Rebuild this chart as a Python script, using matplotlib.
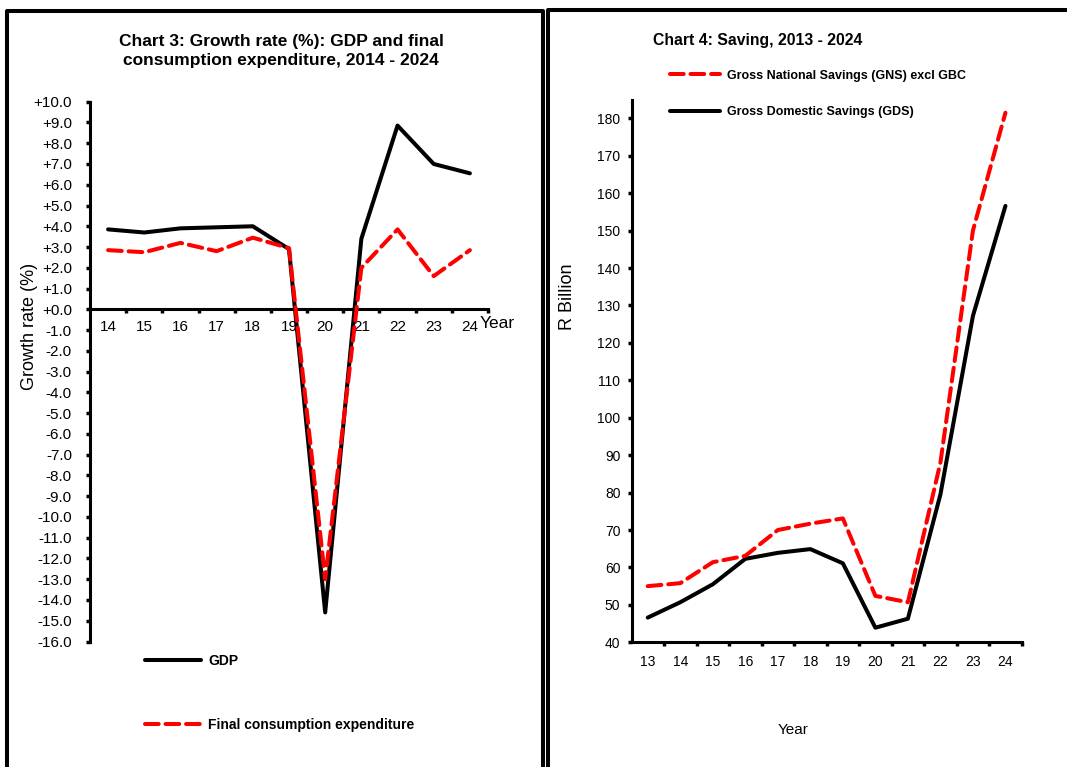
import matplotlib
matplotlib.use("Agg")
import matplotlib.pyplot as plt
from matplotlib.lines import Line2D
from matplotlib.ticker import FixedLocator, FuncFormatter, MultipleLocator

plt.rcParams['font.family'] = ['Liberation Sans', 'DejaVu Sans']

# Chart 3 data (growth rate, %)
years_growth = ['14', '15', '16', '17', '18', '19', '20', '21', '22', '23', '24']
gdp_growth = [3.85, 3.7, 3.9, 3.95, 4.0, 2.9, -14.6, 3.4, 8.85, 7.0, 6.55]
fce_growth = [2.85, 2.75, 3.2, 2.8, 3.45, 2.95, -13.0, 2.0, 3.85, 1.6, 2.85]

# Chart 4 data (R billion)
years_saving = ['13', '14', '15', '16', '17', '18', '19', '20', '21', '22', '23', '24']
gns_excl_gbc = [55.0, 55.8, 61.4, 63.1, 70.0, 71.7, 73.1, 52.4, 50.7, 88.0, 150.0, 181.5]
gds = [46.6, 50.7, 55.5, 62.3, 63.9, 64.9, 61.1, 43.9, 46.3, 79.5, 127.2, 156.6]

W, H = 1067, 767
fig = plt.figure(figsize=(W / 100, H / 100), dpi=100)


def fx(x):
    return x / W


def fy(y):
    return 1 - y / H


red = '#ff0000'
dash = (0, (3.4, 1.7))
lw_line = 2.9
lw_spine = 2.2

# panel borders
fig.add_artist(Line2D([fx(7), fx(7), fx(543), fx(543)], [fy(800), fy(11), fy(11), fy(800)],
                      transform=fig.transFigure, color='black', lw=2.9))
fig.add_artist(Line2D([fx(547.5), fx(547.5), fx(1075)], [fy(800), fy(9.5), fy(9.5)],
                      transform=fig.transFigure, color='black', lw=2.9))

# ---------- Chart 3 ----------
ax1 = fig.add_axes([fx(90), fy(641.5), 398 / W, 539.8 / H])
x1 = range(len(years_growth))
ax1.plot(x1, gdp_growth, color='black', lw=lw_line, solid_joinstyle='round',
         solid_capstyle='round', label='GDP', zorder=3)
ax1.plot(x1, fce_growth, color=red, lw=lw_line, linestyle=dash, dash_capstyle='round',
         label='Final consumption expenditure', zorder=4)
ax1.set_xlim(-0.5, len(years_growth) - 0.5)
ax1.set_ylim(-16, 10)
for s in ['top', 'right']:
    ax1.spines[s].set_visible(False)
ax1.spines['bottom'].set_position(('data', 0))
ax1.spines['left'].set_linewidth(lw_spine)
ax1.spines['bottom'].set_linewidth(lw_spine)
ax1.yaxis.set_major_locator(MultipleLocator(1))
ax1.yaxis.set_major_formatter(FuncFormatter(lambda v, p: f'{v:+.1f}'))
ax1.set_xticks(list(x1))
ax1.set_xticklabels(years_growth)
ax1.xaxis.set_minor_locator(FixedLocator([i + 0.5 for i in x1]))
ax1.tick_params(axis='x', which='major', length=0, pad=8, labelsize=11)
ax1.tick_params(axis='x', which='minor', length=3, width=2.5, direction='out')
ax1.tick_params(axis='y', length=3, width=2.5, direction='out', pad=10, labelsize=11)
for lab in ax1.get_xticklabels():
    lab.set_x(lab.get_position()[0])

fig.text(fx(497), fy(323), 'Year', ha='center', va='center', fontsize=12.5)
fig.text(fx(30), fy(326), 'Growth rate (%)', rotation=90, ha='center', va='center', fontsize=13)
fig.text(fx(281), fy(51), 'Chart 3: Growth rate (%): GDP and final\nconsumption expenditure, 2014 - 2024',
         ha='center', va='center', fontsize=12.5, weight='bold', linespacing=1.35)

leg1 = ax1.legend(loc='upper left', bbox_to_anchor=(fx(145), fy(654)), bbox_transform=fig.transFigure,
                  frameon=False, borderpad=0, borderaxespad=0, handlelength=4.0, handletextpad=0.55,
                  labelspacing=3.6, prop={'weight': 'bold', 'size': 10})

# ---------- Chart 4 ----------
ax2 = fig.add_axes([fx(631.5), fy(642.3), 390.2 / W, 542.7 / H])
x2 = range(len(years_saving))
ax2.plot(x2, gns_excl_gbc, color=red, lw=lw_line, linestyle=dash, dash_capstyle='round',
         label='Gross National Savings (GNS) excl GBC', zorder=4)
ax2.plot(x2, gds, color='black', lw=lw_line, solid_joinstyle='round', solid_capstyle='round',
         label='Gross Domestic Savings (GDS)', zorder=3)
ax2.set_xlim(-0.5, len(years_saving) - 0.5)
ax2.set_ylim(40, 185)
for s in ['top', 'right']:
    ax2.spines[s].set_visible(False)
ax2.spines['left'].set_linewidth(lw_spine)
ax2.spines['bottom'].set_linewidth(lw_spine)
ax2.set_yticks(range(40, 181, 10))
ax2.set_xticks(list(x2))
ax2.set_xticklabels(years_saving)
ax2.xaxis.set_minor_locator(FixedLocator([i + 0.5 for i in x2]))
ax2.tick_params(axis='x', which='major', length=0, pad=9, labelsize=10)
ax2.tick_params(axis='x', which='minor', length=3, width=2.5, direction='out')
ax2.tick_params(axis='y', length=3, width=2.5, direction='out', pad=5, labelsize=10)

fig.text(fx(793), fy(730), 'Year', ha='center', va='center', fontsize=11)
fig.text(fx(568), fy(297), 'R Billion', rotation=90, ha='center', va='center', fontsize=13)
fig.text(fx(653), fy(40), 'Chart 4: Saving, 2013 - 2024', ha='left', va='center',
         fontsize=11.3, weight='bold')

leg2 = ax2.legend(loc='upper left', bbox_to_anchor=(fx(670), fy(69.5)), bbox_transform=fig.transFigure,
                  frameon=False, borderpad=0, borderaxespad=0, handlelength=4.0, handletextpad=0.55,
                  labelspacing=1.95, prop={'weight': 'bold', 'size': 9})

fig.savefig('out.png', dpi=100)
